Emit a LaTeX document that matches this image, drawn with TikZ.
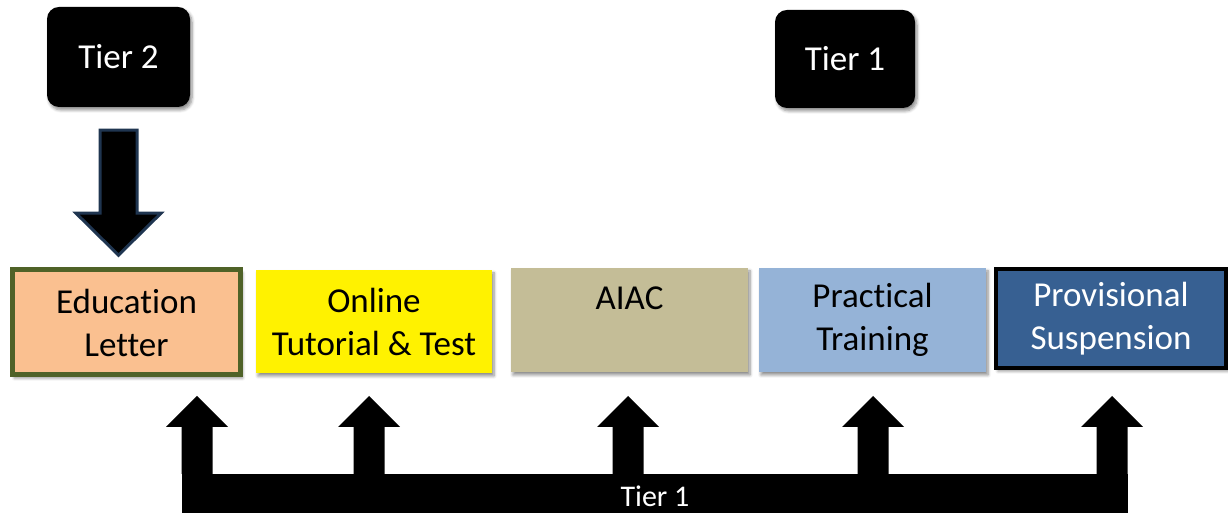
\documentclass[tikz,border=0pt]{standalone}
\usepackage{fontspec}
\setmainfont{Carlito}[Ligatures=NoCommon]
\usetikzlibrary{shadows.blur,calc}

\definecolor{peach}{HTML}{FAC090}
\definecolor{olivedark}{HTML}{4F6228}
\definecolor{tan}{HTML}{C4BD97}
\definecolor{lightblue}{HTML}{95B3D7}
\definecolor{darkblue}{HTML}{376092}
\definecolor{navyline}{HTML}{1F3550}

\tikzset{
  softshadow/.style={blur shadow={shadow xshift=2pt,shadow yshift=-3pt,
      shadow blur radius=3pt,shadow blur steps=6,shadow opacity=45}},
  tierbadge/.style={fill=black,rounded corners=12pt,text=white,
      font=\fontsize{35}{40}\selectfont,softshadow,inner sep=0pt},
  stagebox/.style={inner sep=0pt,align=center,softshadow,
      font=\fontsize{35}{43}\selectfont},
  bigup/.style={fill=black},
}

\begin{document}
\begin{tikzpicture}[x=1pt,y=1pt]
\useasboundingbox (0,0) rectangle (1228,513);

% tier badges at the top
\node[tierbadge,minimum width=143pt,minimum height=100pt] (tiertwo) at (118.5,456) {Tier 2};
\node[tierbadge,minimum width=140pt,minimum height=98pt] (tierone) at (845,454) {Tier 1};

% sanction stages
\node[stagebox,fill=peach,draw=olivedark,line width=5pt,
      minimum width=228pt,minimum height=105pt] (edu) at (126.5,190.5)
      {Education\\Letter};
\node[stagebox,fill=yellow,minimum width=236pt,minimum height=103pt] (online) at (374,191.5)
      {Online\\Tutorial \& Test};
\node[stagebox,fill=tan,minimum width=237pt,minimum height=104pt] (aiac) at (629.5,193)
      {AIAC\\\phantom{X}};
\node[stagebox,fill=lightblue,minimum width=227pt,minimum height=104pt] (practical) at (872.5,193)
      {Practical\\Training};
\node[stagebox,fill=darkblue,draw=black,line width=4pt,text=white,
      minimum width=230pt,minimum height=99pt] (provisional) at (1111,194.5)
      {Provisional\\Suspension};

% block arrow from Tier 2 down to the education letter
\coordinate (dtop) at ($(tiertwo.south)+(0,-23)$);
\filldraw[fill=black,draw=navyline,line width=3pt,line join=miter]
  ($(dtop)+(-18.5,0)$) -- ($(dtop)+(18.5,0)$) -- ($(dtop)+(18.5,-83)$)
  -- ($(dtop)+(42.5,-83)$) -- ($(dtop)+(0,-125)$) -- ($(dtop)+(-42.5,-83)$)
  -- ($(dtop)+(-18.5,-83)$) -- cycle;

% Tier 1 bar along the bottom
\node[fill=black,text=white,inner sep=0pt,minimum width=946pt,minimum height=45pt,
      font=\fontsize{30}{34}\selectfont] (bar) at (655,16.5) {Tier 1};

% block arrows from the bar up to each stage
\foreach \cx in {197,369,628,873,1112}{
  \fill[bigup] (\cx-15.5,39) -- (\cx-15.5,86) -- (\cx-31,86) -- (\cx,117)
     -- (\cx+31,86) -- (\cx+15.5,86) -- (\cx+15.5,39) -- cycle;
}
\end{tikzpicture}
\end{document}
